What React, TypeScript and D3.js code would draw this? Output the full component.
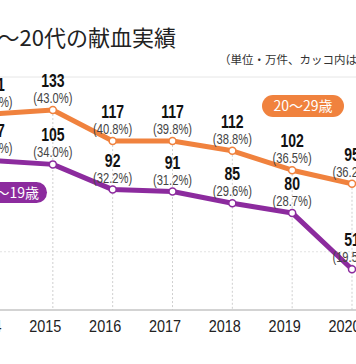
import React from "react";
import * as d3 from "d3";

const years = [2014, 2015, 2016, 2017, 2018, 2019, 2020];
const twenties = [131, 133, 117, 117, 112, 102, 95];
const twentiesPct = ["(42.0%)", "(43.0%)", "(40.8%)", "(39.8%)", "(38.8%)", "(36.5%)", "(36.2%)"];
const teens = [107, 105, 92, 91, 85, 80, 51];
const teensPct = ["(34.3%)", "(34.0%)", "(32.2%)", "(31.2%)", "(29.6%)", "(28.7%)", "(19.5%)"];
const gridValues = [60, 150];
const title = "10～20代の献血実績";
const subtitle = "（単位・万件、カッコ内は割合）";
const twentiesName = "20～29歳";
const teensName = "16～19歳";

const W = 356;
const H = 364;
const ORANGE = "#F0823E";
const PURPLE = "#8C2B9E";
const CJK = "'Noto Sans CJK JP', 'Noto Sans', sans-serif";
const NUM = "'Liberation Sans', Arial, sans-serif";

export default function App() {
  const x = d3.scalePoint<number>().domain(years).range([-7, 352]);
  const y = d3.scaleLinear().domain([30, 150]).range([310, 77]);
  const line = d3
    .line<number>()
    .x((_, i) => x(years[i]) as number)
    .y((d) => y(d));

  const series = [
    { vals: twenties, pct: twentiesPct, color: ORANGE },
    { vals: teens, pct: teensPct, color: PURPLE },
  ];

  return (
    <svg
      width={W}
      height={H}
      style={{ position: "absolute", left: 0, top: 0, background: "#fff" }}
    >
      <rect x={0} y={0} width={W} height={H} fill="#fff" />
      <text x={176} y={46} textAnchor="end" fontFamily={CJK} fontSize={22} fill="#222">
        {title}
      </text>
      <text x={219} y={64} fontFamily={CJK} fontSize={11.5} fill="#333">
        {subtitle}
      </text>

      {gridValues.map((v, i) => (
        <line
          key={v}
          x1={0}
          x2={W}
          y1={y(v)}
          y2={y(v)}
          stroke={i === gridValues.length - 1 ? "#e6e6e6" : "#e2e2e2"}
          strokeWidth={1}
          strokeDasharray={i === gridValues.length - 1 ? undefined : "2,2"}
        />
      ))}

      {years.map((yr, i) => (
        <line
          key={yr}
          x1={x(yr)}
          x2={x(yr)}
          y1={y(twenties[i])}
          y2={y(30)}
          stroke="#cfcfcf"
          strokeWidth={1}
          strokeDasharray="2,2"
        />
      ))}

      <line x1={0} x2={W} y1={y(30)} y2={y(30)} stroke="#c4c4c4" strokeWidth={1.5} />

      {years.map((yr) => (
        <g key={yr} transform={`translate(${(x(yr) as number) - 7.5},332)`}>
          <text transform="scale(0.85,1)" textAnchor="middle" fontFamily={NUM} fontSize={17} fill="#222">
            {yr}
          </text>
        </g>
      ))}

      {series.map((s) => (
        <g key={s.color}>
          <path d={line(s.vals) || ""} fill="none" stroke={s.color} strokeWidth={5} strokeLinejoin="round" />
          {s.vals.map((v, i) => (
            <circle
              key={i}
              cx={x(years[i])}
              cy={y(v)}
              r={3.5}
              fill="#fff"
              stroke={s.color}
              strokeWidth={1.5}
            />
          ))}
          {s.vals.map((v, i) => (
            <g key={"l" + i} transform={`translate(${x(years[i])},${y(v)})`}>
              <text
                transform="translate(0,-23) scale(0.78,1)"
                textAnchor="middle"
                fontFamily={NUM}
                fontWeight="bold"
                fontSize={18}
                fill="#111"
              >
                {v}
              </text>
              <text
                transform="translate(0,-7) scale(0.8,1)"
                textAnchor="middle"
                fontFamily={NUM}
                fontSize={14}
                fill="#444"
              >
                {s.pct[i]}
              </text>
            </g>
          ))}
        </g>
      ))}

      <rect x={262} y={95} width={82} height={22} rx={11} fill={ORANGE} />
      <text x={303} y={111} textAnchor="middle" fontFamily={CJK} fontSize={14} fill="#fff">
        {twentiesName}
      </text>

      <rect x={-40} y={182} width={87} height={21} rx={10.5} fill={PURPLE} />
      <text x={39} y={197.5} textAnchor="end" fontFamily={CJK} fontSize={14} fill="#fff">
        {teensName}
      </text>
    </svg>
  );
}
